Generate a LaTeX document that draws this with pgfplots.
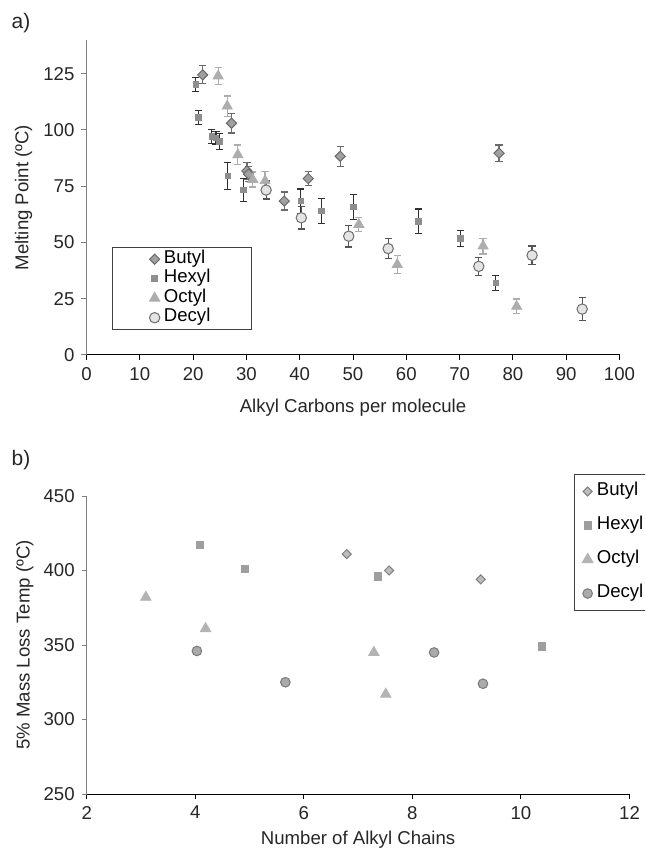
\documentclass[border=0pt]{standalone}
\usepackage{fontspec}
\setmainfont{Liberation Sans}
\usepackage{pgfplots}
\usepackage{pgfplotstable}
\pgfplotsset{compat=1.18}

\definecolor{txt}{HTML}{262626}
\definecolor{axgray}{HTML}{808080}
\definecolor{legdraw}{HTML}{404040}
\definecolor{bFill}{HTML}{A0A0A0}
\definecolor{bDraw}{HTML}{6A6A6A}
\definecolor{hFill}{HTML}{8E8E8E}
\definecolor{oFill}{HTML}{ADADAD}
\definecolor{dFill}{HTML}{E4E4E4}
\definecolor{dDraw}{HTML}{6E6E6E}
\definecolor{hErr}{HTML}{303030}
\definecolor{bErr}{HTML}{6A6A6A}
\definecolor{oErr}{HTML}{ADADAD}
\definecolor{dErr}{HTML}{555555}
\definecolor{b2Fill}{HTML}{BDBDBD}
\definecolor{b2Draw}{HTML}{808080}
\definecolor{h2Fill}{HTML}{9E9E9E}
\definecolor{o2Fill}{HTML}{B3B3B3}
\definecolor{d2Fill}{HTML}{AAAAAA}
\definecolor{d2Draw}{HTML}{7A7A7A}

\pgfplotstableread{
x y e
21.8 124.5 4
27.2 103.0 4.3
30.1 81.8 3.6
30.4 80.4 3.2
37.1 68.4 4
41.6 78.4 3
47.6 88.3 4.5
77.4 89.7 3.6
}\butylA
\pgfplotstableread{
x y e
20.5 120.2 3
21.05 105.5 3
23.5 97.2 3.1
24.3 96.4 3
24.9 95.0 3.5
26.5 79.6 6
29.4 73.3 5
40.2 68.4 5.4
44.1 64.0 5.5
50.1 65.9 5.6
62.3 59.5 5.4
70.1 51.8 3.5
76.8 32.0 3.5
}\hexylA
\pgfplotstableread{
x y e
24.7 124.0 3.9
26.4 110.6 4.5
28.4 89.0 4.3
31.2 78.0 3.3
33.5 77.4 4
51.1 58.0 3.1
58.3 40.2 4
74.4 48.4 3.5
80.7 21.6 3.3
}\octylA
\pgfplotstableread{
x y e
33.7 73.3 4
40.3 61.0 5
49.2 52.8 4.8
56.6 47.3 4.3
73.6 39.4 3.9
83.6 44.3 4.1
93.0 20.4 5
}\decylA

\pgfplotstableread{
x y
6.79 411
7.57 400
9.26 394
}\butylB
\pgfplotstableread{
x y
4.09 417
4.92 401
7.36 396
10.39 349
}\hexylB
\pgfplotstableread{
x y
3.09 382
4.19 361
7.29 345
7.51 317
}\octylB
\pgfplotstableread{
x y
4.03 346
5.66 325
8.40 345
9.30 324
}\decylB

\pgfplotsset{
  base/.style={
    scale only axis,
    axis lines=left,
    axis line style={-},
    x axis line style={black, line width=0.5pt},
    y axis line style={draw=axgray, line width=0.6pt},
    tick align=outside,
    major tick length=2.5pt,
    xtick style={black, line width=0.5pt},
    ytick style={axgray, line width=0.5pt},
    ticklabel style={text=txt},
    /pgf/number format/assume math mode=true,
    label style={text=txt},
    legend cell align=left,
    legend image code/.code={\draw[##1] plot coordinates {(0pt,0pt)};},
  },
  errs/.style={error bars/.cd, y dir=both, y explicit,
    error bar style={line width=0.6pt, draw=#1},
    error mark options={rotate=90, line width=0.6pt, draw=#1, mark size=1.8pt}},
}

\begin{document}
\begin{tikzpicture}[font=\fontsize{9.3}{11}\selectfont]
\useasboundingbox (0,0) rectangle (322.5pt,426pt);
\clip (0,0) rectangle (322.5pt,426pt);

\node[anchor=center, text=txt, font=\fontsize{10.5}{12}\selectfont] at (10.5pt,414.5pt) {a)};
\node[anchor=center, text=txt, font=\fontsize{10.5}{12}\selectfont] at (10.5pt,196pt) {b)};

\begin{axis}[base,
  at={(43.25pt,248.5pt)}, anchor=south west,
  width=266.5pt, height=157.5pt,
  xmin=0, xmax=100, ymin=0, ymax=140,
  xtick={0,10,...,100}, ytick={0,25,...,125},
  xlabel={Alkyl Carbons per molecule},
  ylabel={Melting Point (ºC)},
  xlabel style={at={(axis description cs:0.5,-0.168)}, anchor=center},
  ylabel style={at={(axis description cs:-0.118,0.5)}, anchor=center},
  legend style={at={(axis description cs:0.0478,0.3429)}, anchor=north west,
    draw=legdraw, line width=0.5pt, inner xsep=18.5pt, inner ysep=1pt,
    row sep=0pt, nodes={text height=7pt, text depth=2.75pt, inner ysep=0pt}},
]
\addplot[only marks, mark=square*, mark size=1.8pt, mark options={rotate=45, fill=bFill, draw=bDraw, line width=0.5pt}, errs=bErr]
  table[x=x, y=y, y error=e] {\butylA};
\addlegendentry{Butyl}
\addplot[only marks, mark=square*, mark size=1.4pt, mark options={fill=hFill, draw=hFill}, errs=hErr]
  table[x=x, y=y, y error=e] {\hexylA};
\addlegendentry{Hexyl}
\addplot[only marks, mark=triangle*, mark size=2.9pt, mark options={fill=oFill, draw=oFill}, errs=oErr]
  table[x=x, y=y, y error=e] {\octylA};
\addlegendentry{Octyl}
\addplot[only marks, mark=*, mark size=2.6pt, mark options={fill=dFill, draw=dDraw, line width=0.5pt}, errs=dErr]
  table[x=x, y=y, y error=e] {\decylA};
\addlegendentry{Decyl}
\end{axis}

\begin{axis}[base,
  at={(43.35pt,29pt)}, anchor=south west,
  width=271.4pt, height=149pt,
  xmin=2, xmax=12, ymin=250, ymax=450,
  xtick={2,4,...,12}, ytick={250,300,...,450},
  xlabel={Number of Alkyl Chains},
  ylabel={5\% Mass Loss Temp (ºC)},
  xlabel style={at={(axis description cs:0.5,-0.1544)}, anchor=center},
  ylabel style={at={(axis description cs:-0.114,0.5)}, anchor=center},
  legend style={at={(axis description cs:0.8977,1.0738)}, anchor=north west,
    draw=legdraw, line width=0.5pt, inner xsep=4pt, inner ysep=0pt,
    row sep=0pt, nodes={text height=10.5pt, text depth=6.5pt, inner ysep=0pt}},
]
\addplot[only marks, mark=square*, mark size=1.6pt, mark options={rotate=45, fill=b2Fill, draw=b2Draw, line width=0.5pt}]
  table[x=x, y=y] {\butylB};
\addlegendentry{Butyl}
\addplot[only marks, mark=square*, mark size=1.8pt, mark options={fill=h2Fill, draw=h2Fill}]
  table[x=x, y=y] {\hexylB};
\addlegendentry{Hexyl}
\addplot[only marks, mark=triangle*, mark size=3.0pt, mark options={fill=o2Fill, draw=o2Fill}]
  table[x=x, y=y] {\octylB};
\addlegendentry{Octyl}
\addplot[only marks, mark=*, mark size=2.4pt, mark options={fill=d2Fill, draw=d2Draw, line width=0.5pt}]
  table[x=x, y=y] {\decylB};
\addlegendentry{Decyl}
\end{axis}
\end{tikzpicture}
\end{document}
